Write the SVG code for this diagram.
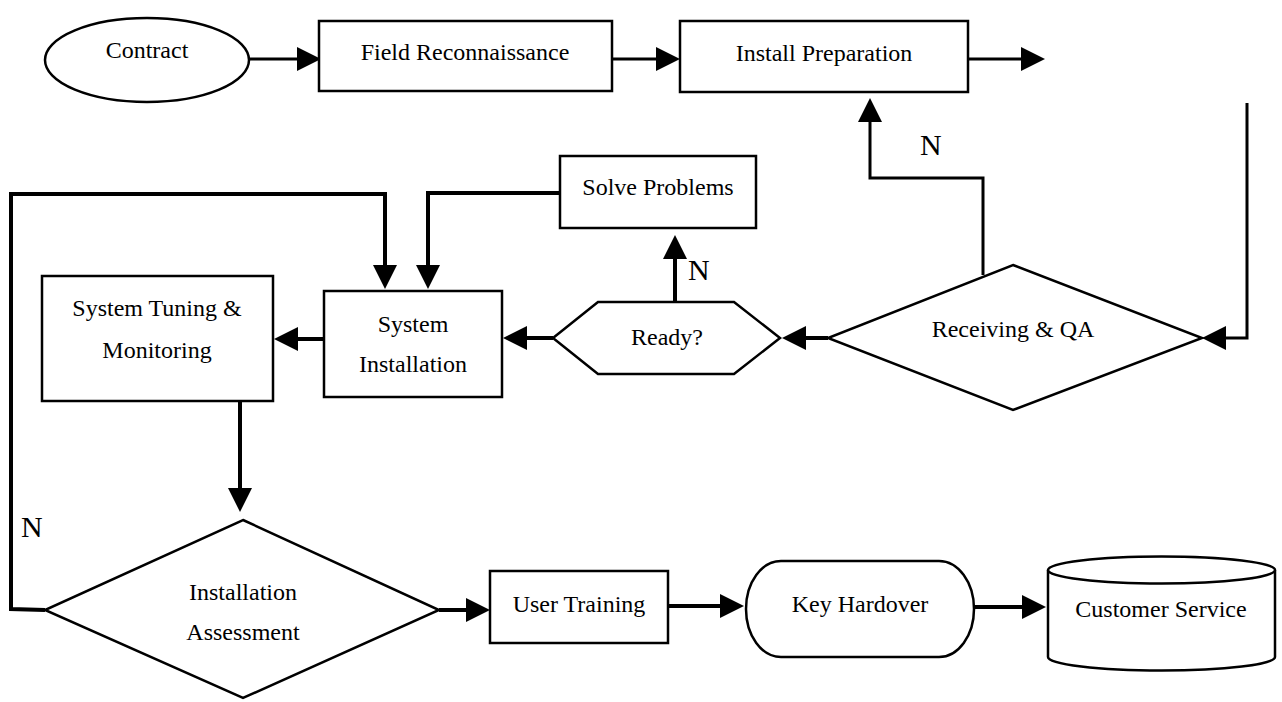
<svg xmlns="http://www.w3.org/2000/svg" width="1282" height="702" viewBox="0 0 1282 702">
<style>
.shape{fill:#fff;stroke:#000;stroke-width:2.5}
.t{font-family:"Liberation Serif","Times New Roman",serif;font-size:24px;fill:#000;text-anchor:middle}
.n{font-family:"Liberation Serif","Times New Roman",serif;font-size:30px;fill:#000}
.c{fill:none;stroke:#000;stroke-width:3}
.ct{fill:none;stroke:#000;stroke-width:4}
</style>
<defs>
<marker id="ah" markerUnits="userSpaceOnUse" markerWidth="24" markerHeight="24" refX="0" refY="12" orient="auto" overflow="visible">
<path d="M0,0 L24,12 L0,24 Z" fill="#000"/>
</marker>
</defs>
<rect width="1282" height="702" fill="#fff"/>
<g id="connectors">
<path class="c" d="M249,59 H297" marker-end="url(#ah)"/>
<path class="c" d="M612,59 H656" marker-end="url(#ah)"/>
<path class="c" d="M968,59 H1021" marker-end="url(#ah)"/>
<path class="c" d="M1247,103 V338 H1226" marker-end="url(#ah)"/>
<path class="ct" d="M828,338 H806" marker-end="url(#ah)"/>
<path class="c" d="M983,275 V178 H870 V122" marker-end="url(#ah)"/>
<path class="ct" d="M553,338 H527" marker-end="url(#ah)"/>
<path class="ct" d="M675,302 V259" marker-end="url(#ah)"/>
<path class="ct" d="M560,193 H428 V265" marker-end="url(#ah)"/>
<path class="ct" d="M45,610 L11,609 V194 H385 V265" marker-end="url(#ah)"/>
<path class="ct" d="M324,339 H298" marker-end="url(#ah)"/>
<path class="ct" d="M240,401 V488" marker-end="url(#ah)"/>
<path class="ct" d="M439,610 H466" marker-end="url(#ah)"/>
<path class="ct" d="M668,606 H720" marker-end="url(#ah)"/>
<path class="ct" d="M974,607 H1022" marker-end="url(#ah)"/>
<text class="n" x="920" y="155">N</text>
<text class="n" x="688" y="280">N</text>
<text class="n" x="21" y="537">N</text>
</g>
<g id="contract">
<ellipse class="shape" cx="147" cy="60" rx="102" ry="42"/>
<text class="t" x="147" y="58">Contract</text>
</g>
<g id="field-reconnaissance">
<rect class="shape" x="319" y="21" width="293" height="70"/>
<text class="t" x="465" y="60">Field Reconnaissance</text>
</g>
<g id="install-preparation">
<rect class="shape" x="680" y="21" width="288" height="71"/>
<text class="t" x="824" y="61">Install Preparation</text>
</g>
<g id="receiving-qa">
<polygon class="shape" points="1013,265 1202,338 1013,410 828,338"/>
<text class="t" x="1013" y="337">Receiving &amp; QA</text>
</g>
<g id="ready">
<polygon class="shape" points="553,338 598,302 734,302 780,338 734,374 598,374"/>
<text class="t" x="667" y="345">Ready?</text>
</g>
<g id="solve-problems">
<rect class="shape" x="560" y="156" width="196" height="72"/>
<text class="t" x="658" y="195">Solve Problems</text>
</g>
<g id="system-installation">
<rect class="shape" x="324" y="291" width="178" height="106"/>
<text class="t" x="413" y="332">System</text>
<text class="t" x="413" y="372">Installation</text>
</g>
<g id="system-tuning">
<rect class="shape" x="42" y="276" width="231" height="125"/>
<text class="t" x="157" y="316">System Tuning &amp;</text>
<text class="t" x="157" y="358">Monitoring</text>
</g>
<g id="installation-assessment">
<polygon class="shape" points="243,520 439,610 243,698 45,610"/>
<text class="t" x="243" y="600">Installation</text>
<text class="t" x="243" y="640">Assessment</text>
</g>
<g id="user-training">
<rect class="shape" x="490" y="571" width="178" height="72"/>
<text class="t" x="579" y="612">User Training</text>
</g>
<g id="key-hardover">
<path class="shape" d="M781,561 H939 A35,48 0 0 1 939,657 H781 A35,48 0 0 1 781,561 Z"/>
<text class="t" x="860" y="612">Key Hardover</text>
</g>
<g id="customer-service">
<path class="shape" d="M1048,570 V657 A113.5,13.5 0 0 0 1275,657 V570"/>
<ellipse class="shape" cx="1161.5" cy="570" rx="113.5" ry="13.5"/>
<text class="t" x="1161" y="617">Customer Service</text>
</g>
</svg>
